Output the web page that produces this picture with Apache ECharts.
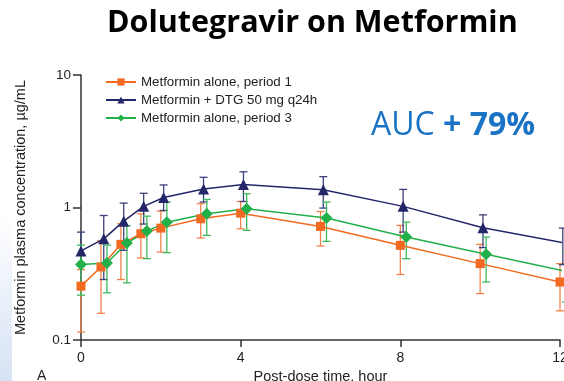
<!DOCTYPE html>
<html>
<head>
<meta charset="utf-8">
<script src="https://cdn.jsdelivr.net/npm/echarts@6/dist/echarts.min.js"></script>
<style>
  html, body { margin: 0; padding: 0; background: #fff; }
  #main { width: 564px; height: 381px; }
</style>
</head>
<body>
<div id="main"></div>
<script>
// sampling times, hour
var times = [0, 0.5, 1, 1.5, 2, 3, 4, 6, 8, 10, 12];

// Metformin alone, period 1
var p1Mean = [0.255, 0.356, 0.527, 0.634, 0.699, 0.822, 0.906, 0.72, 0.518, 0.377, 0.274];
var p1Low  = [0.115, 0.159, 0.286, 0.416, 0.461, 0.588, 0.691, 0.512, 0.312, 0.224, 0.166];
var p1High = [0.34, 0.56, 0.754, 0.897, 0.938, 1.07, 1.11, 0.933, 0.732, 0.527, 0.377];

// Metformin + DTG 50 mg q24h
var dtgMean = [0.47, 0.58, 0.789, 1.02, 1.19, 1.38, 1.49, 1.36, 1.02, 0.703, 0.543];
var dtgLow  = [0.26, 0.286, 0.475, 0.75, 0.95, 1.10, 1.11, 0.99, 0.652, 0.498, 0.37];
var dtgHigh = [0.652, 0.87, 1.08, 1.28, 1.48, 1.69, 1.86, 1.71, 1.37, 0.88, 0.699];

// Metformin alone, period 3
var p3Mean = [0.371, 0.381, 0.539, 0.664, 0.775, 0.897, 0.978, 0.832, 0.598, 0.443, 0.33];
var p3Low  = [0.218, 0.227, 0.27, 0.411, 0.456, 0.616, 0.672, 0.555, 0.411, 0.274, 0.194];
var p3High = [0.52, 0.52, 0.73, 0.86, 1.10, 1.15, 1.27, 1.10, 0.775, 0.598, 0.461];

var yTicks = [0.1, 1, 10];
var xTicks = [0, 4, 8, 12];

var names = ['Metformin alone, period 1', 'Metformin + DTG 50 mg q24h', 'Metformin alone, period 3'];

// small horizontal shift so the groups don't overlap (like the original figure)
function shifted(shift, vals) {
    return times.map(function (t, i) {
        return [t > 0 ? t + shift : t, vals[i]];
    });
}
function errData(shift, lo, hi) {
    return times.map(function (t, i) {
        return [t > 0 ? t + shift : t, lo[i], hi[i]];
    });
}
function errSeries(name, data, color) {
    return {
        name: name,
        type: 'custom',
        z: 1,
        silent: true,
        data: data,
        renderItem: function (params, api) {
            var top = api.coord([api.value(0), api.value(2)]);
            var bot = api.coord([api.value(0), api.value(1)]);
            var w = 4;
            var st = { stroke: color, lineWidth: 1.3 };
            return {
                type: 'group',
                children: [
                    { type: 'line', shape: { x1: top[0], y1: top[1], x2: bot[0], y2: bot[1] }, style: st },
                    { type: 'line', shape: { x1: top[0] - w, y1: top[1], x2: top[0] + w, y2: top[1] }, style: st },
                    { type: 'line', shape: { x1: bot[0] - w, y1: bot[1], x2: bot[0] + w, y2: bot[1] }, style: st }
                ]
            };
        }
    };
}

var orange = '#F26A21', navy = '#24266A', green = '#22B04B';

var myChart = echarts.init(document.getElementById('main'));
var option = {
    animation: false,
    title: {
        text: 'Dolutegravir on Metformin',
        left: 102,
        top: 3,
        textStyle: {
            fontFamily: 'Open Sans',
            fontWeight: 'bold',
            fontSize: 30.5,
            color: '#000'
        }
    },
    grid: {
        left: 81,
        right: 4,
        top: 75,
        bottom: 41,
        outerBoundsMode: 'none'
    },
    legend: {
        data: names,
        orient: 'vertical',
        left: 105,
        top: 75,
        padding: 0,
        itemWidth: 30,
        itemHeight: 9,
        itemGap: 4,
        textStyle: {
            fontFamily: 'Liberation Sans',
            fontSize: 13.3,
            lineHeight: 14,
            color: '#222'
        }
    },
    xAxis: {
        type: 'value',
        min: 0,
        max: 12,
        interval: 4,
        name: 'Post-dose time, hour',
        nameLocation: 'middle',
        nameGap: 29,
        nameTextStyle: { fontFamily: 'Liberation Sans', fontSize: 14.5, color: '#222' },
        splitLine: { show: false },
        axisLine: { lineStyle: { color: '#333', width: 1.5 } },
        axisTick: { length: 7, lineStyle: { color: '#333', width: 1.5 } },
        axisLabel: {
            margin: 11,
            fontFamily: 'Liberation Sans',
            fontSize: 14,
            color: '#222',
            formatter: function (v) { return xTicks.indexOf(v) >= 0 ? String(v) : ''; }
        }
    },
    yAxis: {
        type: 'log',
        logBase: 10,
        min: 0.1,
        max: 10,
        name: 'Metformin plasma concentration, µg/mL',
        nameLocation: 'middle',
        nameGap: 53,
        nameTextStyle: { fontFamily: 'Liberation Sans', fontSize: 14.5, color: '#222' },
        splitLine: { show: false },
        minorTick: { show: false },
        axisLine: { show: true, lineStyle: { color: '#333', width: 1.5 } },
        axisTick: { show: true, length: 8, lineStyle: { color: '#333', width: 1.5 } },
        axisLabel: {
            margin: 10,
            fontFamily: 'Liberation Sans',
            fontSize: 13.5,
            color: '#222',
            formatter: function (v) {
                for (var i = 0; i < yTicks.length; i++) {
                    if (Math.abs(v - yTicks[i]) < 1e-9) return String(yTicks[i]);
                }
                return '';
            }
        }
    },
    graphic: [
        {
            type: 'rect',
            left: 0,
            top: 215,
            shape: { width: 12, height: 166 },
            style: {
                fill: new echarts.graphic.LinearGradient(0, 0, 0, 1, [
                    { offset: 0, color: 'rgba(214,226,245,0)' },
                    { offset: 1, color: 'rgba(214,226,245,1)' }
                ])
            },
            silent: true
        },
        {
            type: 'text',
            left: 37,
            top: 369,
            style: { text: 'A', fontFamily: 'Liberation Sans', fontSize: 14, fill: '#222' }
        },
        {
            type: 'text',
            left: 371,
            top: 110,
            style: {
                text: '{a|AUC }{b|+ 79%}',
                rich: {
                    a: { fontFamily: 'Open Sans', fontSize: 32, fill: '#1A73C4', color: '#1A73C4' },
                    b: { fontFamily: 'Open Sans', fontWeight: 'bold', fontSize: 32, fill: '#1A73C4', color: '#1A73C4' }
                }
            }
        }
    ],
    series: [
        errSeries('err1', errData(0, p1Low, p1High), '#F0844A'),
        errSeries('err2', errData(0.07, dtgLow, dtgHigh), '#3E407A'),
        errSeries('err3', errData(0.15, p3Low, p3High), '#3CBA5E'),
        {
            name: names[0],
            type: 'line',
            z: 3,
            data: shifted(0, p1Mean),
            symbol: 'rect',
            symbolSize: 9,
            lineStyle: { color: orange, width: 1.5 },
            itemStyle: { color: orange }
        },
        {
            name: names[1],
            type: 'line',
            z: 4,
            data: shifted(0.07, dtgMean),
            symbol: 'triangle',
            symbolSize: 11,
            lineStyle: { color: navy, width: 1.5 },
            itemStyle: { color: navy }
        },
        {
            name: names[2],
            type: 'line',
            z: 3,
            data: shifted(0.15, p3Mean),
            symbol: 'diamond',
            symbolSize: 12,
            lineStyle: { color: green, width: 1.5 },
            itemStyle: { color: green }
        }
    ]
};
myChart.setOption(option);
</script>
</body>
</html>
